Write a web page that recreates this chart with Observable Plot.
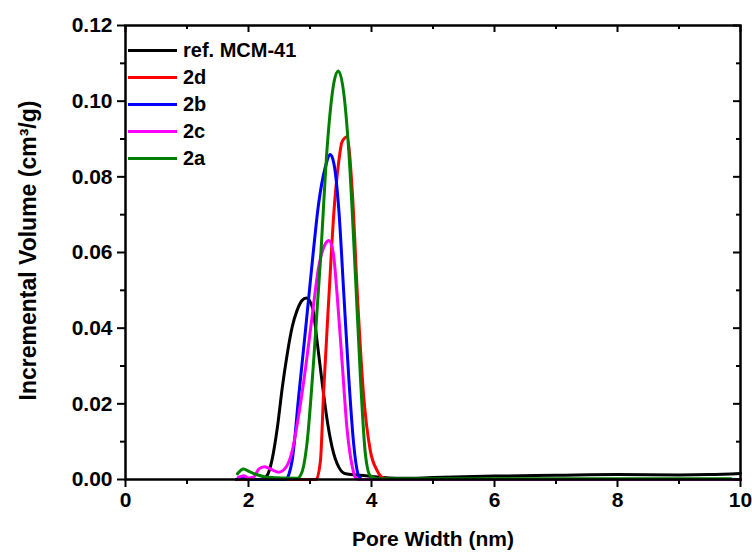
<!DOCTYPE html>
<html>
<head>
<meta charset="utf-8">
<script src="https://cdn.jsdelivr.net/npm/d3@7"></script>
<script src="https://cdn.jsdelivr.net/npm/@observablehq/plot@0.6"></script>
<style>
  html, body { margin: 0; padding: 0; background: #fff; }
  #wrap { position: relative; width: 752px; height: 552px; font-family: "Liberation Sans", Arial, sans-serif; }
  #legend { position: absolute; left: 128px; top: 37px; font-weight: bold; font-size: 20px; color: #000; }
  .row { display: flex; align-items: center; height: 27px; }
  .sw { width: 49px; height: 3px; margin-right: 6px; }
</style>
</head>
<body>
<div id="wrap"><div id="legend"></div></div>
<script>
// ---- data ----
const seriesNames = ["ref. MCM-41", "2d", "2b", "2c", "2a"];
const seriesColors = ["#000000", "#ff0000", "#0000ff", "#ff00ff", "#008000"];

const refX = [1.8, 2.2, 2.3, 2.38, 2.47, 2.55, 2.63, 2.71, 2.79, 2.87, 2.94, 3.04, 3.12, 3.20, 3.28, 3.36, 3.47, 3.58, 3.77, 4.0, 4.5, 5.0, 6.0, 7.0, 8.0, 9.0, 9.5, 10];
const refY = [0, 0, 0.001, 0.005, 0.0138, 0.0244, 0.0332, 0.0403, 0.0447, 0.0473, 0.048, 0.0455, 0.0359, 0.0253, 0.0156, 0.0085, 0.0032, 0.0015, 0.0012, 0.0008, 0.0003, 0.0005, 0.0009, 0.0011, 0.0013, 0.0012, 0.0013, 0.0016];

const s2dX = [1.8, 3.1, 3.17, 3.22, 3.31, 3.39, 3.47, 3.52, 3.60, 3.69, 3.77, 3.87, 3.98, 4.09, 4.17, 4.3, 10];
const s2dY = [0, 0, 0.005, 0.0226, 0.049, 0.071, 0.0843, 0.0892, 0.0905, 0.0755, 0.049, 0.0226, 0.0077, 0.0024, 0.0006, 0, 0];

const s2bX = [1.8, 1.9, 2.0, 2.6, 2.66, 2.71, 2.82, 2.93, 3.04, 3.14, 3.25, 3.33, 3.39, 3.47, 3.55, 3.63, 3.71, 3.79, 3.85, 10];
const s2bY = [0, 0.0006, 0, 0, 0.0015, 0.005, 0.0226, 0.040, 0.058, 0.0729, 0.0826, 0.0859, 0.0834, 0.071, 0.049, 0.027, 0.0094, 0.001, 0, 0];

const s2cX = [1.84, 1.92, 2.0, 2.08, 2.17, 2.26, 2.38, 2.49, 2.62, 2.71, 2.82, 2.93, 3.04, 3.14, 3.25, 3.31, 3.38, 3.44, 3.52, 3.60, 3.69, 3.74, 3.8, 10];
const s2cY = [0.0006, 0.001, 0.0004, 0.0006, 0.0028, 0.0034, 0.0026, 0.0019, 0.0035, 0.0075, 0.0174, 0.0297, 0.0438, 0.0561, 0.0623, 0.0632, 0.0597, 0.049, 0.0315, 0.0138, 0.0032, 0.0005, 0, 0];

const s2aX = [1.82, 1.92, 2.0, 2.15, 2.3, 2.79, 2.87, 2.95, 3.06, 3.17, 3.28, 3.39, 3.46, 3.55, 3.63, 3.74, 3.82, 3.90, 3.98, 4.1, 9.85];
const s2aY = [0.0015, 0.0028, 0.0022, 0.0012, 0.0006, 0.0003, 0.002, 0.0094, 0.0315, 0.058, 0.088, 0.105, 0.108, 0.102, 0.087, 0.0535, 0.027, 0.0068, 0.001, 0.0002, 0.0002];

const xMajor = [0, 2, 4, 6, 8, 10];
const xMinor = [1, 3, 5, 7, 9];
const yMajor = [0, 0.02, 0.04, 0.06, 0.08, 0.10, 0.12];
const yMinor = [0.01, 0.03, 0.05, 0.07, 0.09, 0.11];
const xTitle = "Pore Width (nm)";
const yTitle = "Incremental Volume (cm³/g)";

// ---- build table ----
const seriesX = [refX, s2dX, s2bX, s2cX, s2aX];
const seriesY = [refY, s2dY, s2bY, s2cY, s2aY];
const rows = [];
seriesNames.forEach((name, i) => {
  seriesX[i].forEach((x, j) => rows.push({series: name, x, y: seriesY[i][j]}));
});

const W = 752, H = 552, mL = 125, mR = 12, mT = 25, mB = 73;
const plotW = W - mL - mR, plotH = H - mT - mB;

const chart = Plot.plot({
  width: W, height: H,
  marginLeft: mL, marginRight: mR, marginTop: mT, marginBottom: mB,
  style: {fontFamily: "'Liberation Sans', Arial, sans-serif", fontWeight: "bold", color: "#000", background: "#fff"},
  x: {domain: [0, 10]},
  y: {domain: [0, 0.12]},
  color: {domain: seriesNames, range: seriesColors},
  marks: [
    ...seriesNames.map((name) => Plot.line(rows.filter(d => d.series === name), {
      x: "x", y: "y", stroke: "series", strokeWidth: 3, curve: "monotone-x"
    })),
    // bottom axis (outward ticks)
    Plot.axisX({ticks: xMajor, tickSize: 8, tickPadding: 5, tickFormat: d3.format("d"), fontSize: 21, strokeWidth: 2, label: null}),
    Plot.axisX({ticks: xMinor, tickSize: 5, tickFormat: () => "", strokeWidth: 2, label: null}),
    // left axis (outward ticks)
    Plot.axisY({ticks: yMajor, tickSize: 8, tickPadding: 5, tickFormat: d3.format(".2f"), fontSize: 21, strokeWidth: 2, label: null}),
    Plot.axisY({ticks: yMinor, tickSize: 5, tickFormat: () => "", strokeWidth: 2, label: null}),
    // top & right inward ticks
    Plot.tickX(xMajor, {x: d => d, insetBottom: plotH - 7, strokeWidth: 2}),
    Plot.tickX(xMinor, {x: d => d, insetBottom: plotH - 4, strokeWidth: 2}),
    Plot.tickY(yMajor, {y: d => d, insetLeft: plotW - 7, strokeWidth: 2}),
    Plot.tickY(yMinor, {y: d => d, insetLeft: plotW - 4, strokeWidth: 2}),
    Plot.frame({strokeWidth: 2.5}),
    // titles
    Plot.text([xTitle], {text: d => d, frameAnchor: "bottom", dy: 66, fontSize: 21, fontWeight: "bold"}),
    Plot.text([yTitle], {text: d => d, frameAnchor: "left", textAnchor: "middle", dx: -97, dy: -2, rotate: -90, fontSize: 23, fontWeight: "bold"})
  ]
});
document.getElementById("wrap").prepend(chart);

// legend
const leg = document.getElementById("legend");
seriesNames.forEach((name, i) => {
  const r = document.createElement("div");
  r.className = "row";
  const sw = document.createElement("div");
  sw.className = "sw";
  sw.style.background = seriesColors[i];
  const t = document.createElement("span");
  t.textContent = name;
  r.appendChild(sw); r.appendChild(t);
  leg.appendChild(r);
});
</script>
</body>
</html>
